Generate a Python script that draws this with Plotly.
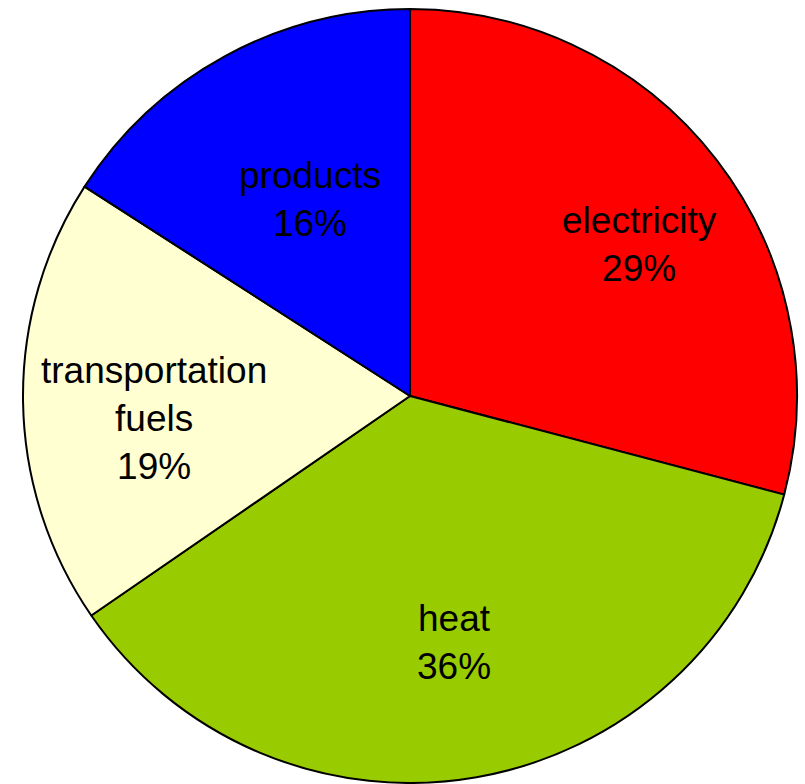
import math
import plotly.graph_objects as go

labels = ["electricity", "heat", "transportation<br>fuels", "products"]
values = [29.1, 36.3, 18.7, 15.9]
colors = ["#FF0000", "#99CC00", "#FFFFD2", "#0000FF"]

# label placement style (radius fraction, angular shift in degrees)
label_radius = [0.709, 0.646, 0.664, 0.569]
label_shift = [4.2, -0.2, -4.1, 1.6]

W, H = 805, 784
cx, cy, R = 410, 396, 387

fig = go.Figure(go.Pie(
    labels=labels,
    values=values,
    sort=False,
    direction="clockwise",
    rotation=0,
    marker=dict(colors=colors, line=dict(color="black", width=2)),
    textinfo="none",
    hoverinfo="label+percent",
    domain=dict(x=[(cx - R) / W, (cx + R) / W], y=[1 - (cy + R) / H, 1 - (cy - R) / H]),
))

total = sum(values)
cum = 0
for lab, v, rf, sh in zip(labels, values, label_radius, label_shift):
    mid = (cum + v / 2) / total * 360 + sh
    cum += v
    a = math.radians(mid)
    px = cx + rf * R * math.sin(a)
    py = cy - rf * R * math.cos(a)
    pct = round(v / total * 100)
    fig.add_annotation(
        x=px / W, y=1 - py / H, xref="paper", yref="paper",
        text=f"{lab}<br>{pct}%", showarrow=False,
        xanchor="center", yanchor="middle",
        font=dict(family="Liberation Sans, Arial, sans-serif", size=37, color="black"),
    )

fig.update_layout(
    width=W, height=H,
    margin=dict(l=0, r=0, t=0, b=0),
    showlegend=False,
    paper_bgcolor="white",
    plot_bgcolor="white",
)

fig.write_html("out.html")
